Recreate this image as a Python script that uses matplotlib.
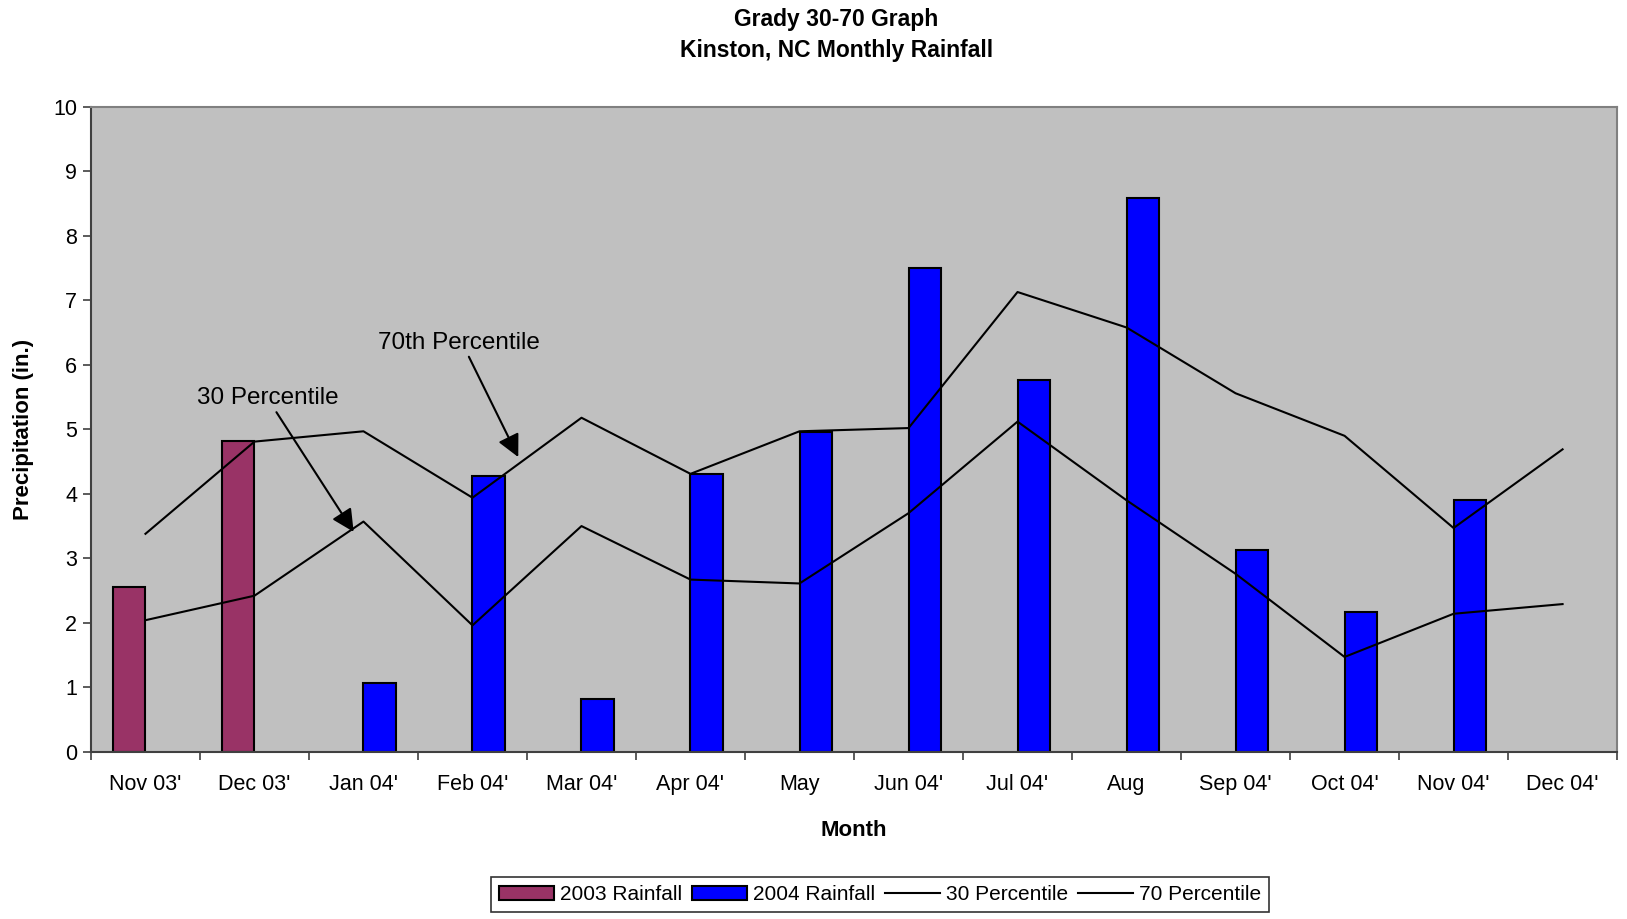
import numpy as np
import matplotlib
matplotlib.use("Agg")
import matplotlib.pyplot as plt
from matplotlib.patches import Patch
from matplotlib.lines import Line2D

months = ["Nov 03'", "Dec 03'", "Jan 04'", "Feb 04'", "Mar 04'", "Apr 04'", "May",
          "Jun 04'", "Jul 04'", "Aug", "Sep 04'", "Oct 04'", "Nov 04'", "Dec 04'"]
rain_2003 = [2.55, 4.82, np.nan, np.nan, np.nan, np.nan, np.nan,
             np.nan, np.nan, np.nan, np.nan, np.nan, np.nan, np.nan]
rain_2004 = [np.nan, np.nan, 1.07, 4.28, 0.82, 4.31, 4.96,
             7.51, 5.77, 8.59, 3.13, 2.17, 3.91, np.nan]
pct30 = [2.04, 2.42, 3.57, 1.96, 3.50, 2.67, 2.61, 3.70, 5.12, 3.90, 2.76, 1.47, 2.14, 2.29]
pct70 = [3.38, 4.81, 4.97, 3.94, 5.18, 4.31, 4.97, 5.02, 7.13, 6.58, 5.56, 4.90, 3.47, 4.69]

plt.rcParams['font.family'] = ['Liberation Sans', 'DejaVu Sans']

fig = plt.figure(figsize=(16.27, 9.19), dpi=100)
ax = fig.add_axes([0.0559, 0.182, 0.938, 0.7016])
ax.set_facecolor('#C0C0C0')

x = np.arange(len(months))
w = 0.294
ax.bar(x - w / 2, rain_2003, width=w, color='#993366', edgecolor='black', linewidth=1.5, zorder=2)
ax.bar(x + w / 2, rain_2004, width=w, color='#0000FF', edgecolor='black', linewidth=1.5, zorder=2)
ax.plot(x, pct30, color='black', lw=1.5, zorder=3)
ax.plot(x, pct70, color='black', lw=1.5, zorder=3)

ax.set_xlim(-0.5, len(months) - 0.5)
ax.set_ylim(0, 10)
ax.set_yticks(range(0, 11))
ax.tick_params(axis='y', labelsize=15.5, length=6, width=1.2, color='#404040', pad=4)
ax.set_xticks(x)
ax.set_xticklabels(months)
ax.tick_params(axis='x', which='major', length=0, labelsize=15.5, pad=16)
ax.set_xticks(np.arange(-0.5, len(months)), minor=True)
ax.tick_params(axis='x', which='minor', length=6, width=1.2, color='#404040')

for s in ['left', 'bottom']:
    ax.spines[s].set_color('#404040')
    ax.spines[s].set_linewidth(1.5)
for s in ['top', 'right']:
    ax.spines[s].set_color('#808080')
    ax.spines[s].set_linewidth(1.5)

ax.set_ylabel('Precipitation (in.)', fontsize=16, fontweight='bold', labelpad=14)
ax.set_xlabel('Month', fontsize=16, fontweight='bold', labelpad=18)

fig.text(0.514, 0.979, 'Grady 30-70 Graph', ha='center', va='center', fontsize=16.5, fontweight='bold')
fig.text(0.514, 0.945, 'Kinston, NC Monthly Rainfall', ha='center', va='center', fontsize=16.5, fontweight='bold')

arrow = dict(arrowstyle='-|>', mutation_scale=34, lw=1.5, color='black', shrinkA=0, shrinkB=0)
ax.annotate('70th Percentile', xy=(3.42, 4.57), xytext=(2.88, 6.34), fontsize=17.5,
            ha='center', va='center', arrowprops=dict(arrow, relpos=(0.55, 0.0)), zorder=4)
ax.annotate('30 Percentile', xy=(1.91, 3.41), xytext=(1.12, 5.48), fontsize=17.5,
            ha='center', va='center', arrowprops=dict(arrow, relpos=(0.55, 0.0)), zorder=4)

handles = [Patch(facecolor='#993366', edgecolor='black', lw=1.5),
           Patch(facecolor='#0000FF', edgecolor='black', lw=1.5),
           Line2D([0], [0], color='black', lw=1.5),
           Line2D([0], [0], color='black', lw=1.5)]
labels = ['2003 Rainfall', '2004 Rainfall', '30 Percentile', '70 Percentile']
leg = fig.legend(handles, labels, loc='center', bbox_to_anchor=(0.541, 0.0265), ncol=4,
                 fontsize=15, frameon=True, fancybox=False, handlelength=2.6, handletextpad=0.3,
                 columnspacing=0.5, borderpad=0.4, handleheight=0.7)
leg.get_frame().set_edgecolor('black')
leg.get_frame().set_linewidth(1.2)

fig.savefig('out.png', dpi=100)
